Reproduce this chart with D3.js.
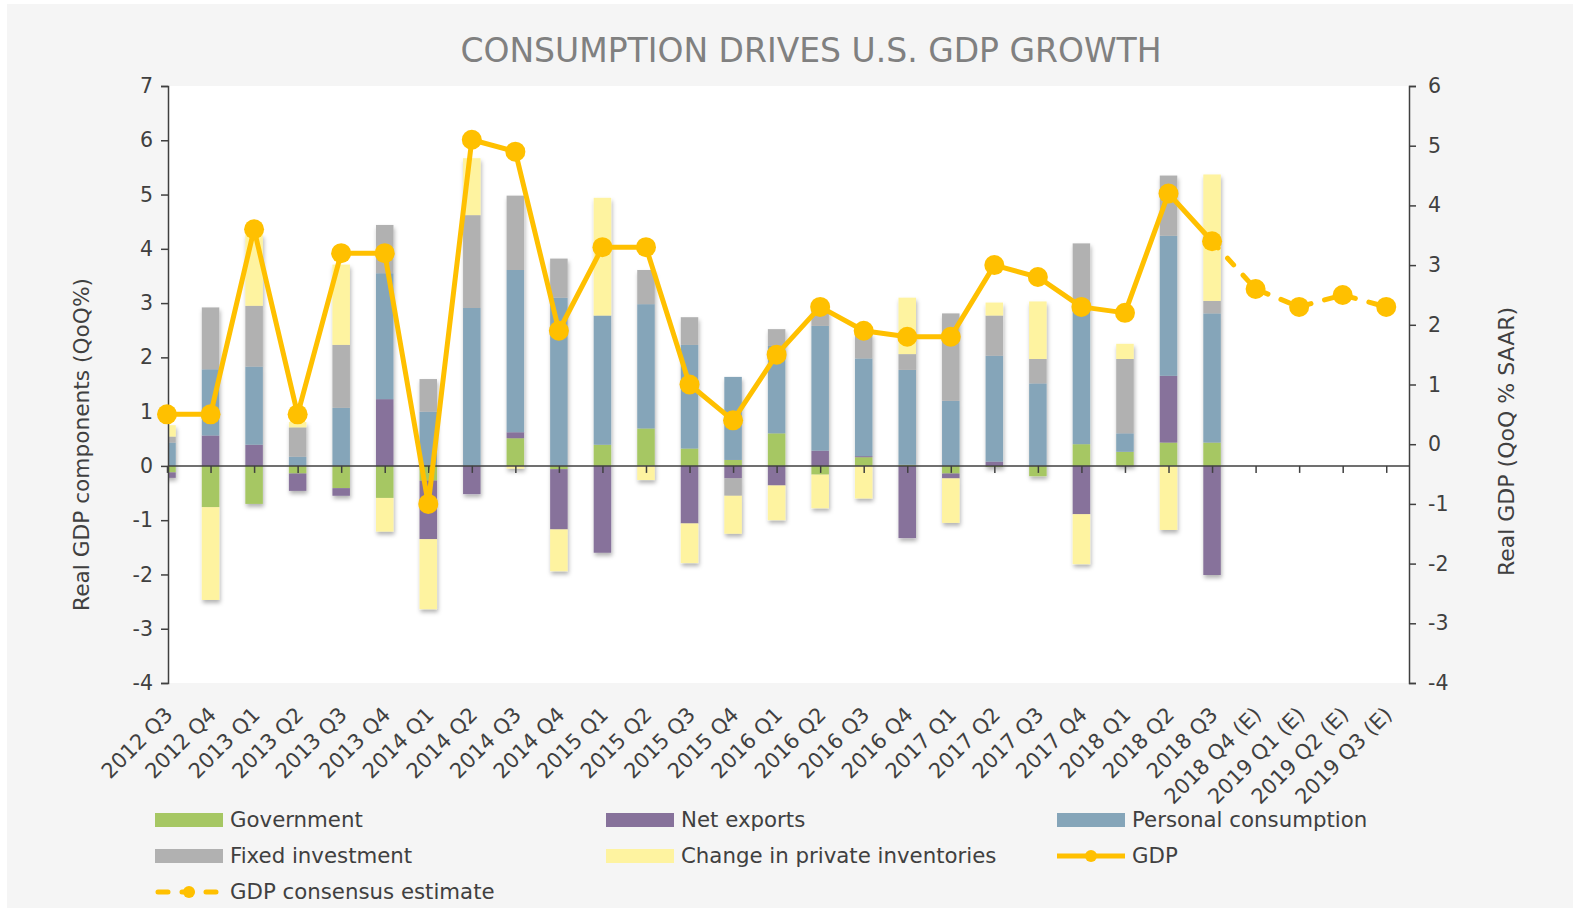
<!DOCTYPE html>
<html>
<head>
<meta charset="utf-8">
<script src="https://cdn.jsdelivr.net/npm/d3@7"></script>
<style>
  body { margin: 0; background: #ffffff; }
  text { font-family: "DejaVu Sans", Verdana, sans-serif; }
</style>
</head>
<body>
<div id="chart"></div>
<script>
const width = 1573
const height = 910
const plot = { left: 168, right: 1409, top: 86, bottom: 683 }

// categories
const quarters = ["2012 Q3", "2012 Q4", "2013 Q1", "2013 Q2", "2013 Q3", "2013 Q4", "2014 Q1", "2014 Q2",
    "2014 Q3", "2014 Q4", "2015 Q1", "2015 Q2", "2015 Q3", "2015 Q4", "2016 Q1", "2016 Q2", "2016 Q3",
    "2016 Q4", "2017 Q1", "2017 Q2", "2017 Q3", "2017 Q4", "2018 Q1", "2018 Q2", "2018 Q3",
    "2018 Q4 (E)", "2019 Q1 (E)", "2019 Q2 (E)", "2019 Q3 (E)"]

// contributions, 2012 Q3 .. 2018 Q3 (left axis)
const government  = [-0.12, -0.76, -0.70, -0.14, -0.41, -0.59, -0.27, 0.00, 0.51, -0.06, 0.39, 0.69, 0.32, 0.11, 0.60, -0.16, 0.16, 0.02, -0.14, -0.02, -0.19, 0.40, 0.26, 0.43, 0.43]
const netExports  = [-0.10, 0.56, 0.39, -0.32, -0.14, 1.23, -1.08, -0.52, 0.11, -1.11, -1.60, 0.00, -1.06, -0.23, -0.36, 0.28, 0.02, -1.33, -0.09, 0.08, 0.00, -0.89, 0.00, 1.23, -2.01]
const consumption = [0.43, 1.22, 1.44, 0.17, 1.07, 2.32, 1.00, 2.91, 2.99, 3.10, 2.38, 2.29, 1.91, 1.53, 1.61, 2.30, 1.80, 1.75, 1.20, 1.95, 1.52, 2.47, 0.34, 2.58, 2.38]
const fixedInv    = [0.11, 1.14, 1.12, 0.54, 1.16, 0.89, 0.60, 1.71, 1.37, 0.72, 0.00, 0.63, 0.51, -0.32, 0.31, 0.29, 0.46, 0.29, 1.61, 0.74, 0.45, 1.23, 1.37, 1.11, 0.23]
const inventories = [0.21, -1.71, 1.32, 0.10, 1.48, -0.62, -1.29, 1.05, -0.05, -0.77, 2.17, -0.26, -0.73, -0.70, -0.64, -0.62, -0.60, 1.04, -0.82, 0.24, 1.06, -0.92, 0.28, -1.18, 2.33]

// GDP, right axis
const gdp = [0.5, 0.5, 3.6, 0.5, 3.2, 3.2, -1.0, 5.1, 4.9, 1.9, 3.3, 3.3, 1.0, 0.4, 1.5, 2.3, 1.9, 1.8, 1.8, 3.0, 2.8, 2.3, 2.2, 4.2, 3.4]
const consensusQuarters = ["2018 Q3", "2018 Q4 (E)", "2019 Q1 (E)", "2019 Q2 (E)", "2019 Q3 (E)"]
const consensus = [3.4, 2.6, 2.3, 2.5, 2.3]

const leftTicks = [-4, -3, -2, -1, 0, 1, 2, 3, 4, 5, 6, 7]
const rightTicks = [-4, -3, -2, -1, 0, 1, 2, 3, 4, 5, 6]

const seriesKeys = ["Government", "Net exports", "Personal consumption", "Fixed investment", "Change in private inventories"]
const seriesValues = [government, netExports, consumption, fixedInv, inventories]
const colors = ["#a6c763", "#87729b", "#85a5b9", "#b1b1b1", "#fef3a0"]
const gold = "#ffc000"
const axisColor = "#404040"

const svg = d3.select("div#chart").append("svg").attr("width", width).attr("height", height)

const defs = svg.append("defs")
defs.append("clipPath").attr("id", "plotClip").append("rect")
    .attr("x", plot.left).attr("y", plot.top)
    .attr("width", plot.right - plot.left).attr("height", plot.bottom - plot.top)
defs.append("filter").attr("id", "shadow").attr("x", "-20%").attr("y", "-20%").attr("width", "160%").attr("height", "140%")
    .append("feDropShadow").attr("dx", 1).attr("dy", 3).attr("stdDeviation", 2)
    .attr("flood-color", "#000").attr("flood-opacity", 0.3)

svg.append("rect").attr("x", 7).attr("y", 4).attr("width", width - 7).attr("height", height - 6).attr("fill", "#f5f5f5")
svg.append("rect").attr("x", plot.left).attr("y", plot.top)
    .attr("width", plot.right - plot.left).attr("height", plot.bottom - plot.top).attr("fill", "#ffffff")

svg.append("text").text("CONSUMPTION DRIVES U.S. GDP GROWTH")
    .attr("x", 811).attr("y", 62).attr("text-anchor", "middle")
    .attr("font-size", 33).attr("fill", "#808080")

const step = (plot.right - plot.left) / 28.5
const x = d3.scalePoint().domain(quarters).range([plot.left - 1, plot.left - 1 + 28 * step])
const yL = d3.scaleLinear().domain([-4, 7]).range([plot.bottom, plot.top])
const yR = d3.scaleLinear().domain([-4, 6]).range([plot.bottom, plot.top])

// stacked bars
const rows = quarters.slice(0, gdp.length).map((q, i) => {
    const r = { quarter: q }
    seriesKeys.forEach((k, j) => r[k] = seriesValues[j][i])
    return r
})
const stacked = d3.stack().keys(seriesKeys).offset(d3.stackOffsetDiverging)(rows)

const barWidth = 17.5
const barGroup = svg.append("g").attr("clip-path", "url(#plotClip)")
const catGroups = barGroup.selectAll("g.cat").data(rows).enter().append("g")
    .attr("class", "cat").attr("filter", "url(#shadow)")
catGroups.each(function (d, i) {
    const g = d3.select(this)
    stacked.forEach((s, j) => {
        const seg = s[i]
        if (seg[1] - seg[0] === 0) return
        g.append("rect")
            .attr("x", x(d.quarter) - barWidth / 2)
            .attr("y", yL(Math.max(seg[0], seg[1])))
            .attr("width", barWidth)
            .attr("height", Math.abs(yL(seg[0]) - yL(seg[1])))
            .attr("fill", colors[j])
    })
})

// axes
const yAxisLeft = d3.axisLeft(yL).tickValues(leftTicks).tickSize(7).tickPadding(8).tickFormat(d => String(d))
const yAxisRight = d3.axisRight(yR).tickValues(rightTicks).tickSize(7).tickPadding(12).tickFormat(d => String(d))
const xAxis = d3.axisBottom(x).tickSize(7).tickFormat("")

const leftG = svg.append("g").attr("transform", `translate(${plot.left}, 0)`).call(yAxisLeft)
const rightG = svg.append("g").attr("transform", `translate(${plot.right}, 0)`).call(yAxisRight)
const xG = svg.append("g").attr("transform", `translate(0, ${yL(0)})`).call(xAxis)
xG.select(".domain").remove()
svg.append("line").attr("x1", plot.left).attr("x2", plot.right)
    .attr("y1", yL(0)).attr("y2", yL(0)).attr("stroke", axisColor).attr("stroke-width", 1.5)

;[leftG, rightG, xG].forEach(g => {
    g.selectAll("path, line").attr("stroke", axisColor).attr("stroke-width", 1.5)
    g.selectAll("text").attr("font-size", 20.5).attr("fill", axisColor)
        .attr("font-family", "DejaVu Sans, Verdana, sans-serif")
})

// rotated category labels
svg.append("g").selectAll("text").data(quarters).enter().append("text")
    .text(d => d)
    .attr("transform", d => `translate(${x(d) + 7}, ${716}) rotate(-45)`)
    .attr("text-anchor", "end")
    .attr("font-size", 21).attr("fill", axisColor)

svg.append("text").text("Real GDP components (QoQ%)")
    .attr("transform", `translate(89, ${(plot.top + plot.bottom) / 2 + 60}) rotate(-90)`)
    .attr("text-anchor", "middle").attr("font-size", 21.7).attr("fill", axisColor)
svg.append("text").text("Real GDP (QoQ % SAAR)")
    .attr("transform", `translate(1514, ${(plot.top + plot.bottom) / 2 + 57}) rotate(-90)`)
    .attr("text-anchor", "middle").attr("font-size", 22).attr("fill", axisColor)

// GDP line and consensus
const line = d3.line().x(d => x(d.q)).y(d => yR(d.v))
const gdpPts = gdp.map((v, i) => ({ q: quarters[i], v: v }))
const consPts = consensus.map((v, i) => ({ q: consensusQuarters[i], v: v }))

svg.append("path").datum(consPts).attr("d", line).attr("fill", "none")
    .attr("stroke", gold).attr("stroke-width", 5).attr("stroke-dasharray", "9,14").attr("stroke-linecap", "round")
svg.append("path").datum(gdpPts).attr("d", line).attr("fill", "none")
    .attr("stroke", gold).attr("stroke-width", 5).attr("stroke-linejoin", "round")
svg.append("g").selectAll("circle").data(gdpPts.concat(consPts.slice(1))).enter().append("circle")
    .attr("cx", d => x(d.q)).attr("cy", d => yR(d.v)).attr("r", 10).attr("fill", gold)

// legend
const legendItems = [
    { name: "Government", type: "bar", color: colors[0], x: 155, y: 820 },
    { name: "Net exports", type: "bar", color: colors[1], x: 606, y: 820 },
    { name: "Personal consumption", type: "bar", color: colors[2], x: 1057, y: 820 },
    { name: "Fixed investment", type: "bar", color: colors[3], x: 155, y: 856 },
    { name: "Change in private inventories", type: "bar", color: colors[4], x: 606, y: 856 },
    { name: "GDP", type: "line", x: 1057, y: 856 },
    { name: "GDP consensus estimate", type: "dash", x: 155, y: 892 }
]
const legend = svg.append("g")
legendItems.forEach(it => {
    if (it.type === "bar") {
        legend.append("rect").attr("x", it.x).attr("y", it.y - 7).attr("width", 68).attr("height", 14).attr("fill", it.color)
    } else if (it.type === "line") {
        legend.append("line").attr("x1", it.x).attr("x2", it.x + 68).attr("y1", it.y).attr("y2", it.y)
            .attr("stroke", gold).attr("stroke-width", 5)
        legend.append("circle").attr("cx", it.x + 34).attr("cy", it.y).attr("r", 6).attr("fill", gold)
    } else {
        legend.append("line").attr("x1", it.x + 3).attr("x2", it.x + 65).attr("y1", it.y).attr("y2", it.y)
            .attr("stroke", gold).attr("stroke-width", 5).attr("stroke-dasharray", "10,14").attr("stroke-linecap", "round")
        legend.append("circle").attr("cx", it.x + 34).attr("cy", it.y).attr("r", 6).attr("fill", gold)
    }
    legend.append("text").text(it.name).attr("x", it.x + 75).attr("y", it.y).attr("dy", "0.35em")
        .attr("font-size", 21.3).attr("fill", axisColor)
})
</script>
</body>
</html>
